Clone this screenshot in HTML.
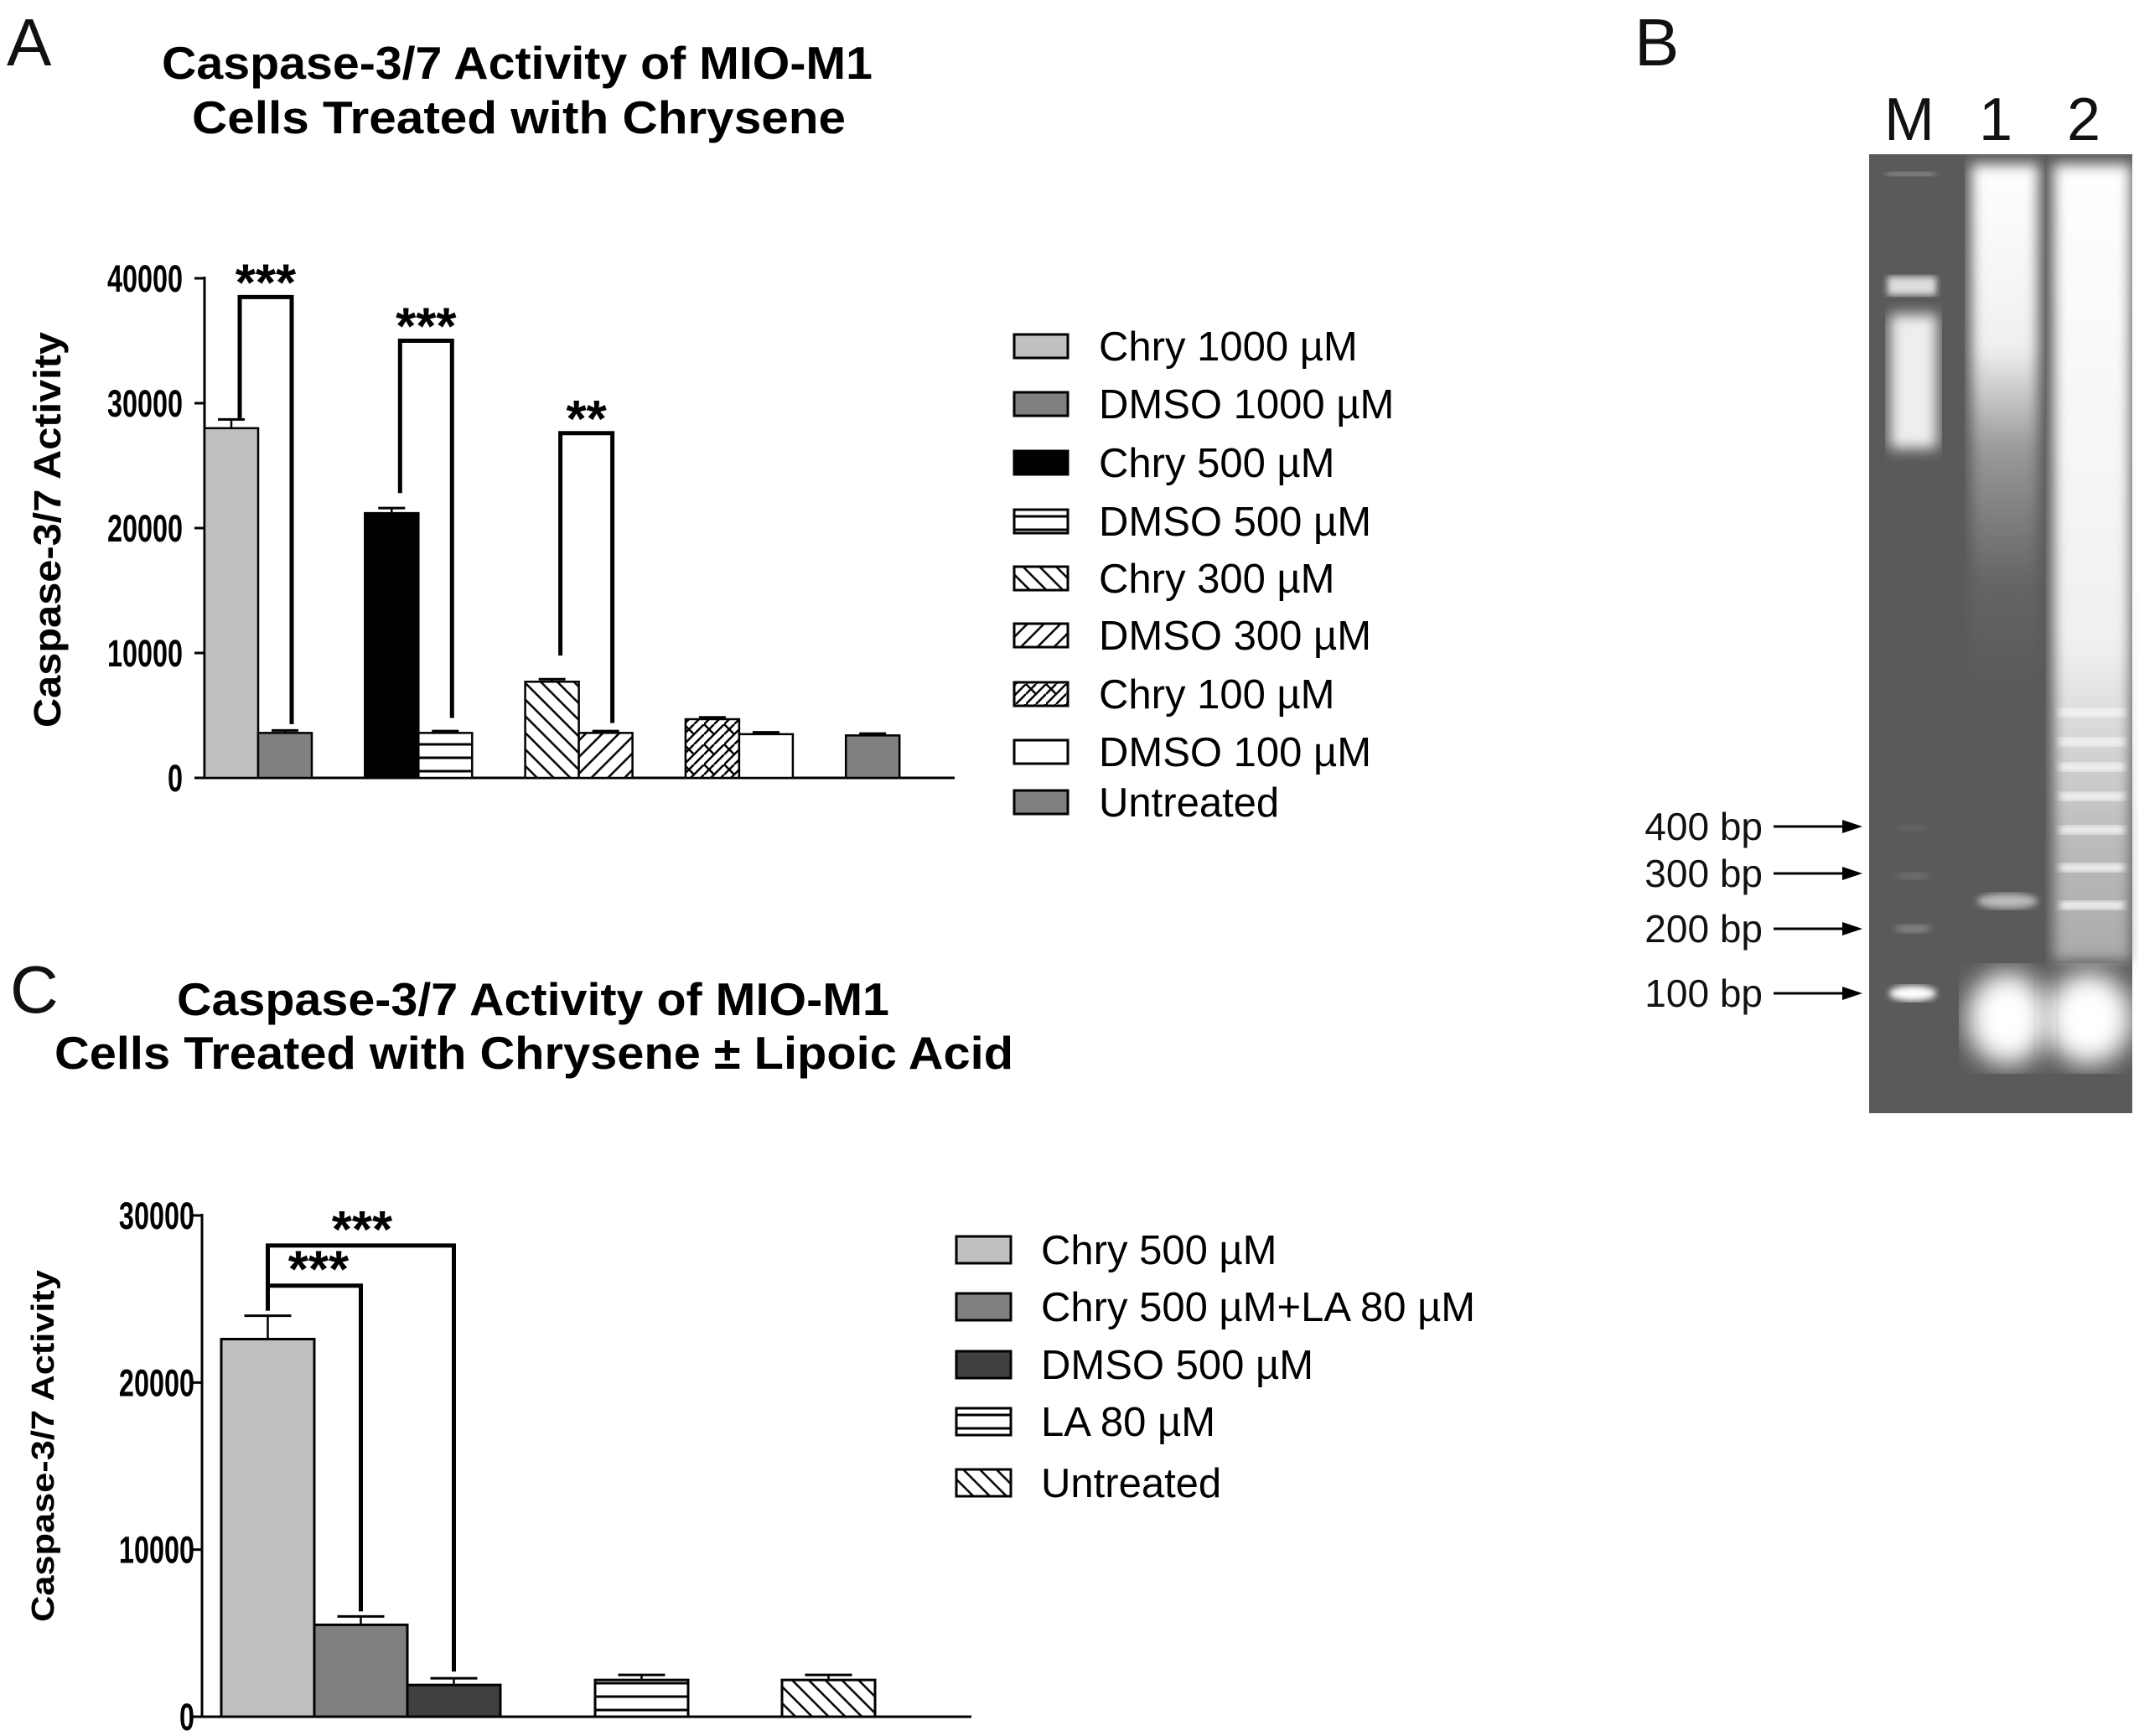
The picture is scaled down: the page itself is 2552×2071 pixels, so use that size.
<!DOCTYPE html>
<html><head><meta charset="utf-8"><style>
html,body{margin:0;padding:0;background:#fff;}
svg{display:block;font-family:"Liberation Sans",Arial,sans-serif;}
</style></head><body>
<svg id="fig" width="2552" height="2071" viewBox="0 0 2552 2071" xmlns="http://www.w3.org/2000/svg">
<defs>
<pattern id="pH" patternUnits="userSpaceOnUse" width="20" height="16"><rect width="20" height="16" fill="#fff"/><line x1="0" y1="8" x2="20" y2="8" stroke="#000" stroke-width="3"/></pattern>
<pattern id="pB" patternUnits="userSpaceOnUse" width="14" height="14" patternTransform="rotate(-45)"><rect width="14" height="14" fill="#fff"/><line x1="7" y1="0" x2="7" y2="14" stroke="#000" stroke-width="2.5"/></pattern>
<pattern id="pF" patternUnits="userSpaceOnUse" width="14" height="14" patternTransform="rotate(45)"><rect width="14" height="14" fill="#fff"/><line x1="7" y1="0" x2="7" y2="14" stroke="#000" stroke-width="2.5"/></pattern>
<pattern id="pX" patternUnits="userSpaceOnUse" width="24" height="24"><rect width="24" height="24" fill="#fff"/><path d="M0 24 L24 0 M0 12 L12 0 M12 24 L24 12 M0 0 L12 12" stroke="#000" stroke-width="2.5" fill="none"/></pattern>
<filter id="blur8"><feGaussianBlur stdDeviation="8"/></filter>
<filter id="blur4"><feGaussianBlur stdDeviation="4"/></filter>
<filter id="blur15"><feGaussianBlur stdDeviation="15"/></filter>
<linearGradient id="lane1g" x1="0" y1="0" x2="0" y2="1"><stop offset="0" stop-color="#fff"/><stop offset="0.35" stop-color="#f0f0f0"/><stop offset="0.55" stop-color="#999"/><stop offset="0.8" stop-color="#666"/><stop offset="1" stop-color="#5a5a5a"/></linearGradient>
<linearGradient id="lane2g" x1="0" y1="0" x2="0" y2="1"><stop offset="0" stop-color="#fff"/><stop offset="0.6" stop-color="#f0f0f0"/><stop offset="0.85" stop-color="#bbb"/><stop offset="1" stop-color="#aaa"/></linearGradient>
</defs>
<g id="panelA"></g>
<g id="panelC"></g>
<g id="panelB"></g>
</svg>
<script>
// ---------- Panel A data ----------
const aLabels = ["Chry 1000 µM","DMSO 1000 µM","Chry 500 µM","DMSO 500 µM","Chry 300 µM","DMSO 300 µM","Chry 100 µM","DMSO 100 µM","Untreated"];
const aValues = [28000, 3600, 21200, 3600, 7700, 3600, 4700, 3500, 3400];
const aErrors = [700, 200, 400, 150, 200, 150, 150, 150, 150];
const aTicks = [0, 10000, 20000, 30000, 40000];
const aSigTop = [38500, 35000, 27600];
const aSigLeft = [28800, 22800, 9800];
const aSigRight = [4300, 4800, 4400];
const aSigText = ["***","***","**"];
// ---------- Panel C data ----------
const cLabels = ["Chry 500 µM","Chry 500 µM+LA 80 µM","DMSO 500 µM","LA 80 µM","Untreated"];
const cValues = [22600, 5500, 1900, 2200, 2200];
const cErrors = [1400, 500, 400, 300, 300];
const cTicks = [0, 10000, 20000, 30000];

const NS = "http://www.w3.org/2000/svg";
function mk(parent, tag, attrs, text) {
  const e = document.createElementNS(NS, tag);
  for (const k in attrs) e.setAttribute(k, attrs[k]);
  if (text !== undefined) e.textContent = text;
  parent.appendChild(e);
  return e;
}
const aFills = ["#c0c0c0","#808080","#000","url(#pH)","url(#pB)","url(#pF)","url(#pX)","#fff","#808080"];
const cFills = ["#c0c0c0","#808080","#404040","url(#pH)","url(#pB)"];

function tickLabel(g, xr, y, v, name) {
  const s = 0.72;
  const tl = mk(g,'text',{x:xr/s,y:y+16,'font-size':45,'font-weight':'bold','text-anchor':'end',transform:`scale(${s},1)`},String(v));
   
}

// ----- Panel A -----
(function(){
  const g = document.getElementById('panelA');
  const x0 = 244, x1 = 1139, y0 = 928, yTop = 332, vMax = 40000;
  const ys = v => y0 - (v / vMax) * (y0 - yTop);
  const bw = 64;
  const groupX = k => 244 + k * 191.3;
  const barX = i => groupX(Math.floor(i / 2)) + (i % 2) * bw;
  let t = mk(g,'text',{x:8,y:78,'font-size':80,fill:'#111'},'A');
   
  t = mk(g,'text',{x:193,y:94,'font-size':55,'font-weight':'bold',textLength:848,lengthAdjust:'spacingAndGlyphs'},'Caspase-3/7 Activity of MIO-M1');
   
  t = mk(g,'text',{x:229,y:159,'font-size':55,'font-weight':'bold',textLength:780,lengthAdjust:'spacingAndGlyphs'},'Cells Treated with Chrysene');
   
  t = mk(g,'text',{x:0,y:0,'font-size':45,'font-weight':'bold','text-anchor':'middle',textLength:472,lengthAdjust:'spacingAndGlyphs',transform:'translate(72,632) rotate(-90)'},'Caspase-3/7 Activity');
   
  let l = mk(g,'line',{x1:x0,y1:yTop-2,x2:x0,y2:y0,stroke:'#000','stroke-width':3});
   
  l = mk(g,'line',{x1:x0,y1:y0,x2:x1,y2:y0,stroke:'#000','stroke-width':3});
   
  aTicks.forEach(v => {
    const tk = mk(g,'line',{x1:x0-12,y1:ys(v),x2:x0,y2:ys(v),stroke:'#000','stroke-width':3});
     
    tickLabel(g, 218, ys(v), v, 'y-tick-label');
  });
  aValues.forEach((v,i) => {
    const x = barX(i), cx = x + bw/2;
    const e = mk(g,'line',{x1:cx,y1:ys(v+aErrors[i]),x2:cx,y2:ys(v),stroke:'#000','stroke-width':2.5});
     
    const c = mk(g,'line',{x1:cx-16,y1:ys(v+aErrors[i]),x2:cx+16,y2:ys(v+aErrors[i]),stroke:'#000','stroke-width':3});
     
    const r = mk(g,'rect',{x:x,y:ys(v),width:bw,height:y0-ys(v),fill:aFills[i],stroke:'#000','stroke-width':2.5});
    
    
  });
  aSigTop.forEach((v,k) => {
    const lx = barX(2*k) + bw/2 + 10, rx = barX(2*k+1) + bw/2 + 8;
    const p = mk(g,'path',{d:`M${lx} ${ys(aSigLeft[k])} L${lx} ${ys(v)} L${rx} ${ys(v)} L${rx} ${ys(aSigRight[k])}`,fill:'none',stroke:'#000','stroke-width':5});
     
    const s = mk(g,'text',{x:(lx+rx)/2,y:ys(v)+4,'font-size':62,'font-weight':'bold','text-anchor':'middle'},aSigText[k]);
     
  });
  const legY = [413,482,552,622,690,758,828,897,957];
  aLabels.forEach((lab,i) => {
    const r = mk(g,'rect',{x:1210,y:legY[i]-14,width:64,height:28,fill:aFills[i],stroke:'#000','stroke-width':3});
     
    const tx = mk(g,'text',{x:1311,y:legY[i]+17,'font-size':49},lab);
     
  });
})();

// ----- Panel C -----
(function(){
  const g = document.getElementById('panelC');
  const x0 = 241, x1 = 1159, y0 = 2048, yTop = 1450, vMax = 30000;
  const ys = v => y0 - (v / vMax) * (y0 - yTop);
  const bw = 111;
  const barXs = [264, 375, 486, 710, 933];
  let t = mk(g,'text',{x:12,y:1208,'font-size':80,fill:'#111'},'C');
   
  t = mk(g,'text',{x:211,y:1211,'font-size':55,'font-weight':'bold',textLength:850,lengthAdjust:'spacingAndGlyphs'},'Caspase-3/7 Activity of MIO-M1');
   
  t = mk(g,'text',{x:65,y:1275,'font-size':55,'font-weight':'bold',textLength:1144,lengthAdjust:'spacingAndGlyphs'},'Cells Treated with Chrysene ± Lipoic Acid');
   
  t = mk(g,'text',{x:0,y:0,'font-size':38,'font-weight':'bold','text-anchor':'middle',textLength:420,lengthAdjust:'spacingAndGlyphs',transform:'translate(64,1725) rotate(-90)'},'Caspase-3/7 Activity');
   
  let l = mk(g,'line',{x1:x0,y1:yTop-2,x2:x0,y2:y0,stroke:'#000','stroke-width':3});
   
  l = mk(g,'line',{x1:x0,y1:y0,x2:x1,y2:y0,stroke:'#000','stroke-width':3});
   
  cTicks.forEach(v => {
    const tk = mk(g,'line',{x1:x0-14,y1:ys(v),x2:x0,y2:ys(v),stroke:'#000','stroke-width':3});
     
    tickLabel(g, 232, ys(v), v, 'y-tick-label-c');
  });
  cValues.forEach((v,i) => {
    const x = barXs[i], cx = x + bw/2;
    const e = mk(g,'line',{x1:cx,y1:ys(v+cErrors[i]),x2:cx,y2:ys(v),stroke:'#000','stroke-width':2.5});
     
    const c = mk(g,'line',{x1:cx-28,y1:ys(v+cErrors[i]),x2:cx+28,y2:ys(v+cErrors[i]),stroke:'#000','stroke-width':3});
     
    const r = mk(g,'rect',{x:x,y:ys(v),width:bw,height:y0-ys(v),fill:cFills[i],stroke:'#000','stroke-width':3});
    
    
  });
  const lx = barXs[0] + bw/2;
  let p = mk(g,'path',{d:`M${lx} ${ys(24300)} L${lx} ${ys(28200)} L${barXs[2]+bw/2} ${ys(28200)} L${barXs[2]+bw/2} ${ys(2700)}`,fill:'none',stroke:'#000','stroke-width':5});
   
  p = mk(g,'path',{d:`M${lx+2} ${ys(25800)} L${barXs[1]+bw/2} ${ys(25800)} L${barXs[1]+bw/2} ${ys(6300)}`,fill:'none',stroke:'#000','stroke-width':5});
   
  let s = mk(g,'text',{x:432,y:ys(28200)+2,'font-size':62,'font-weight':'bold','text-anchor':'middle'},'***');
   
  s = mk(g,'text',{x:380,y:ys(25800)+2,'font-size':62,'font-weight':'bold','text-anchor':'middle'},'***');
   
  const legY = [1491,1559,1628,1696,1769];
  cLabels.forEach((lab,i) => {
    const r = mk(g,'rect',{x:1141,y:legY[i]-16,width:65,height:32,fill:cFills[i],stroke:'#000','stroke-width':3});
     
    const tx = mk(g,'text',{x:1242,y:legY[i]+17,'font-size':49},lab);
     
  });
})();

// ----- Panel B (gel image) -----
(function(){
  const g = document.getElementById('panelB');
  let t = mk(g,'text',{x:1950,y:78,'font-size':80,fill:'#111'},'B');
   
  [['M',2278],['1',2381],['2',2486]].forEach(([s,x]) => {
    const e = mk(g,'text',{x:x,y:167,'font-size':72,'text-anchor':'middle',fill:'#111'},s);
     
  });
  const gel = mk(g,'g',{});
   
  mk(gel,'rect',{x:2230,y:184,width:314,height:1144,fill:'#5a5a5a'});
  mk(gel,'rect',{x:2252,y:330,width:58,height:22,fill:'#ddd',filter:'url(#blur4)'});
  mk(gel,'rect',{x:2255,y:375,width:56,height:160,fill:'#eee',filter:'url(#blur8)'});
  mk(gel,'rect',{x:2250,y:205,width:58,height:5,fill:'#999',filter:'url(#blur4)'});
  mk(gel,'ellipse',{cx:2282,cy:1185,rx:28,ry:9,fill:'#fff',filter:'url(#blur4)'});
  mk(gel,'ellipse',{cx:2282,cy:1108,rx:22,ry:5,fill:'#888',filter:'url(#blur4)'});
  mk(gel,'ellipse',{cx:2282,cy:1045,rx:20,ry:4,fill:'#727272',filter:'url(#blur4)'});
  mk(gel,'ellipse',{cx:2282,cy:988,rx:20,ry:3,fill:'#6a6a6a',filter:'url(#blur4)'});
  mk(gel,'rect',{x:2352,y:196,width:80,height:620,fill:'url(#lane1g)',filter:'url(#blur8)'});
  mk(gel,'ellipse',{cx:2395,cy:1075,rx:36,ry:9,fill:'#bbb',filter:'url(#blur4)'});
  mk(gel,'ellipse',{cx:2395,cy:1215,rx:48,ry:55,fill:'#fff',filter:'url(#blur15)'});
  mk(gel,'rect',{x:2450,y:196,width:92,height:950,fill:'url(#lane2g)',filter:'url(#blur8)'});
  [845,880,910,945,985,1030,1075].forEach(y=>mk(gel,'rect',{x:2458,y:y,width:76,height:10,fill:'#f4f4f4',filter:'url(#blur4)'}));
  mk(gel,'ellipse',{cx:2492,cy:1215,rx:52,ry:55,fill:'#fff',filter:'url(#blur15)'});
  [['400 bp',986],['300 bp',1042],['200 bp',1108],['100 bp',1185]].forEach(([s,y]) => {
    const e = mk(g,'text',{x:2103,y:y+16,'font-size':46,'text-anchor':'end',fill:'#111'},s);
     
    const a = mk(g,'line',{x1:2116,y1:y,x2:2200,y2:y,stroke:'#000','stroke-width':3});
     
    const h = mk(g,'polygon',{points:`2198,${y-8} 2222,${y} 2198,${y+8}`,fill:'#000'});
     
  });
})();
</script>
</body></html>
